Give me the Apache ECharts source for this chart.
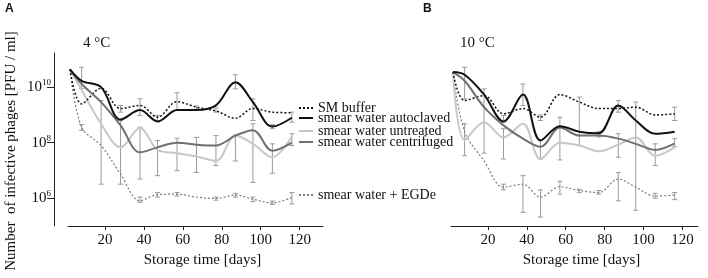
<!DOCTYPE html>
<html>
<head>
<meta charset="utf-8">
<script src="https://cdn.jsdelivr.net/npm/echarts@6/dist/echarts.min.js"></script>
<style>
  html, body { margin: 0; padding: 0; background: #fff; }
  #chart { width: 708px; height: 278px; }
</style>
</head>
<body>
<div id="chart"></div>
<script>
// storage days (same sampling for both temperatures)
var days = [2, 8, 18, 28, 38, 47, 57, 67, 77, 87, 96, 106, 116];
var seriesNames = ['SM buffer', 'smear water autoclaved', 'smear water untreated', 'smear water centrifuged', 'smear water + EGDe'];

// 4 °C  (PFU / ml)
var smA   = [4.4e10, 2.5e9, 9.1e9, 1.7e9, 2.2e9, 8.3e8, 3.0e9, 1.9e9, 1.4e9, 7.6e8, 1.7e9, 1.26e9, 1.2e9];
var autoA = [4.4e10, 1.7e10, 1.0e10, 6.8e8, 1.5e9, 5.8e8, 1.5e9, 1.5e9, 2.2e9, 1.5e10, 2.9e9, 3.8e8, 7.9e8];
var untrA = [4.4e10, 7.9e9, 4.8e8, 6.8e7, 3.4e8, 5.5e7, 4.2e7, 3.2e7, 2.2e7, 1.8e8, 9.1e7, 3.0e7, 1.7e8];
var centA = [4.4e10, 1.3e10, 2.9e9, 4.2e8, 4.5e7, 6.8e7, 1.0e8, 8.5e7, 7.9e7, 1.8e8, 2.8e8, 5.1e7, 1.0e8];
var egdeA = [4.4e10, 3.6e8, 7.9e7, 7.4e6, 8.1e5, 1.35e6, 1.4e6, 1.1e6, 9.8e5, 1.3e6, 9.3e5, 6.8e5, 1.07e6];

// 10 °C  (PFU / ml)
var smB   = [3.5e10, 3.3e9, 5.0e9, 1.1e9, 1.7e9, 8.3e8, 5.4e9, 2.9e9, 1.7e9, 1.7e9, 1.9e9, 1.0e9, 1.1e9];
var autoB = [3.5e10, 2.8e10, 5.4e9, 5.8e8, 5.4e9, 1.2e8, 3.9e8, 2.5e8, 2.2e8, 2.2e9, 6.3e8, 2.1e8, 2.5e8];
var untrB = [3.5e10, 1.26e8, 5.5e8, 1.55e8, 4.8e8, 2.6e7, 1.0e8, 7.9e7, 4.9e7, 8.5e7, 1.55e8, 3.4e7, 6.8e7];
var centB = [3.5e10, 1.7e10, 1.9e9, 4.2e8, 1.4e8, 7.1e7, 3.5e8, 1.8e8, 1.8e8, 1.4e8, 9.1e7, 5.5e7, 9.5e7];
var egdeB = [3.5e10, 2.5e8, 2.2e7, 2.5e6, 3.2e6, 1.1e6, 2.6e6, 1.9e6, 1.6e6, 4.9e6, 2.5e6, 1.2e6, 1.3e6];

// error bars [day, low, high]
var errA = [
  [8, 8.9e9, 5.2e10], [8, 2.8e8, 4.5e8],
  [18, 3.2e6, 3.3e9],
  [28, 3.2e6, 6.3e8], [28, 1.26e9, 2.2e9],
  [38, 9.5e8, 3.8e9], [38, 4.9e6, 3.6e8], [38, 7.1e5, 1.1e6],
  [47, 6.3e8, 9.5e8], [47, 6.5e6, 1.2e8], [47, 1.1e6, 1.6e6],
  [57, 1.45e9, 6.3e9], [57, 9.8e6, 1.45e8], [57, 1.2e6, 1.6e6],
  [67, 1.6e9, 2.1e9], [67, 8.5e6, 1.55e8],
  [77, 1.26e9, 1.8e9], [77, 1.5e7, 1.8e8], [77, 8.5e5, 1.1e6],
  [87, 8.7e9, 2.8e10], [87, 2.2e7, 1.9e8], [87, 1.1e6, 1.5e6],
  [96, 6.3e8, 3.8e9], [96, 3.7e6, 4.8e8], [96, 7.6e5, 1.1e6],
  [106, 3.2e8, 4.5e8], [106, 7.9e6, 9.1e7], [106, 6.0e5, 7.9e5],
  [116, 5.5e8, 1.26e9], [116, 7.9e7, 2.1e8], [116, 6.2e5, 1.6e6]
];
var errB = [
  [8, 3.8e9, 5.2e10], [8, 3.4e7, 4.8e8],
  [18, 4.2e7, 8.7e9],
  [28, 5.5e8, 9.5e8], [28, 2.6e7, 3.2e8], [28, 2.0e6, 3.2e6],
  [38, 2.2e9, 1.3e10], [38, 3.1e5, 6.5e6],
  [47, 6.3e8, 1.0e9], [47, 2.6e7, 1.26e8], [47, 2.1e5, 2.0e6],
  [57, 2.4e7, 8.3e8], [57, 1.4e6, 4.1e6],
  [67, 7.9e7, 4.4e9], [67, 1.6e6, 2.1e6],
  [77, 1.6e8, 2.5e8], [77, 1.4e6, 1.9e6],
  [87, 1.26e9, 3.3e9], [87, 3.0e7, 2.1e8], [87, 8.1e5, 8.5e6],
  [96, 3.7e5, 2.9e9],
  [106, 1.5e7, 9.1e7], [106, 1.0e6, 1.5e6],
  [116, 6.3e8, 1.9e9], [116, 7.1e7, 1.4e8], [116, 8.9e5, 1.6e6]
];

var yTicks = [1e6, 1e8, 1e10];
var xTicks = [20, 40, 60, 80, 100, 120];

var serif = 'Liberation Serif';
var styles = [
  { color: '#111', width: 1.5, type: [2, 2] },
  { color: '#111', width: 2, type: 'solid' },
  { color: '#c8c8c8', width: 2, type: 'solid' },
  { color: '#707070', width: 2, type: 'solid' },
  { color: '#7a7a7a', width: 1.2, type: [2, 2] }
];
var zs = [4, 6, 3, 5, 2];

function pairs(vals) {
  return days.map(function (d, i) { return [d, vals[i]]; });
}

function lineSeries(k, vals, idx) {
  return {
    name: seriesNames[k], type: 'line', xAxisIndex: idx, yAxisIndex: idx,
    data: pairs(vals), smooth: 0.35, symbol: 'none', z: zs[k],
    lineStyle: { color: styles[k].color, width: styles[k].width, type: styles[k].type },
    itemStyle: { color: styles[k].color }
  };
}

function errSeries(data, idx) {
  return {
    type: 'custom', xAxisIndex: idx, yAxisIndex: idx, data: data, z: 1, silent: true,
    renderItem: function (params, api) {
      var lo = api.coord([api.value(0), api.value(1)]);
      var hi = api.coord([api.value(0), api.value(2)]);
      var st = { stroke: '#9a9a9a', lineWidth: 1 };
      return {
        type: 'group', children: [
          { type: 'line', shape: { x1: lo[0], y1: lo[1], x2: hi[0], y2: hi[1] }, style: st },
          { type: 'line', shape: { x1: lo[0] - 2.5, y1: lo[1], x2: lo[0] + 2.5, y2: lo[1] }, style: st },
          { type: 'line', shape: { x1: hi[0] - 2.5, y1: hi[1], x2: hi[0] + 2.5, y2: hi[1] }, style: st }
        ]
      };
    }
  };
}

function xAxisOf(idx, max) {
  return {
    type: 'value', gridIndex: idx, min: 1, max: max,
    name: 'Storage time [days]', nameLocation: 'middle', nameGap: 23,
    nameTextStyle: { fontFamily: serif, fontSize: 15, color: '#111', padding: [0, 0, 0, 14] },
    axisLine: { lineStyle: { color: '#222', width: 1 } },
    axisTick: { customValues: xTicks, length: 4, lineStyle: { color: '#222' } },
    axisLabel: { customValues: xTicks, fontFamily: serif, fontSize: 15, color: '#111', margin: 7 },
    splitLine: { show: false }
  };
}

function yAxisOf(idx, show) {
  return {
    type: 'log', logBase: 10, gridIndex: idx, min: 1e5, max: 1.7e11, show: show, offset: 14,
    axisLine: { show: true, lineStyle: { color: '#222', width: 1 } },
    axisTick: { show: true, customValues: yTicks, length: 7, lineStyle: { color: '#222' } },
    axisLabel: {
      customValues: yTicks, margin: 3,
      formatter: function (v) { return '{b|10}{s|' + Math.round(Math.log10(v)) + '}'; },
      rich: {
        b: { fontFamily: serif, fontSize: 15, color: '#111', lineHeight: 18 },
        s: { fontFamily: serif, fontSize: 9, color: '#111', lineHeight: 11, verticalAlign: 'top' }
      }
    },
    splitLine: { show: false }
  };
}

// direct labels next to the line ends of panel A
var legendTops = [108, 118, 131, 142, 195];
var legends = seriesNames.map(function (n, k) {
  return {
    data: [n], left: 298, top: legendTops[k] - 7, padding: 0,
    itemWidth: 14, itemHeight: 14, selectedMode: false,
    itemStyle: { opacity: 0 },
    textStyle: { fontFamily: serif, fontSize: 14, color: '#111', lineHeight: 14 }
  };
});

var chart = echarts.init(document.getElementById('chart'));
chart.setOption({
  animation: false,
  backgroundColor: '#fff',
  grid: [
    { left: 68, right: 385, top: 53, bottom: 52 },
    { left: 451, right: 10, top: 53, bottom: 52 }
  ],
  xAxis: [xAxisOf(0, 132), xAxisOf(1, 128)],
  yAxis: [yAxisOf(0, true), yAxisOf(1, false)],
  legend: legends,
  graphic: [
    { type: 'text', left: 5, top: 3, style: { text: 'A', font: 'bold 12px "Liberation Sans"', fill: '#111' } },
    { type: 'text', left: 423, top: 3, style: { text: 'B', font: 'bold 12px "Liberation Sans"', fill: '#111' } },
    { type: 'text', left: 83, top: 36, style: { text: '4 °C', font: '15px "Liberation Serif"', fill: '#111' } },
    { type: 'text', left: 460, top: 36, style: { text: '10 °C', font: '15px "Liberation Serif"', fill: '#111' } },
    {
      type: 'text', x: 11, y: 151, rotation: Math.PI / 2,
      style: { text: 'Number  of infective phages [PFU / ml]', font: '15px "Liberation Serif"', fill: '#111', align: 'center', verticalAlign: 'middle' }
    }
  ],
  series: [
    errSeries(errA, 0), errSeries(errB, 1),
    lineSeries(0, smA, 0), lineSeries(1, autoA, 0), lineSeries(2, untrA, 0), lineSeries(3, centA, 0), lineSeries(4, egdeA, 0),
    lineSeries(0, smB, 1), lineSeries(1, autoB, 1), lineSeries(2, untrB, 1), lineSeries(3, centB, 1), lineSeries(4, egdeB, 1)
  ]
});
</script>
</body>
</html>
